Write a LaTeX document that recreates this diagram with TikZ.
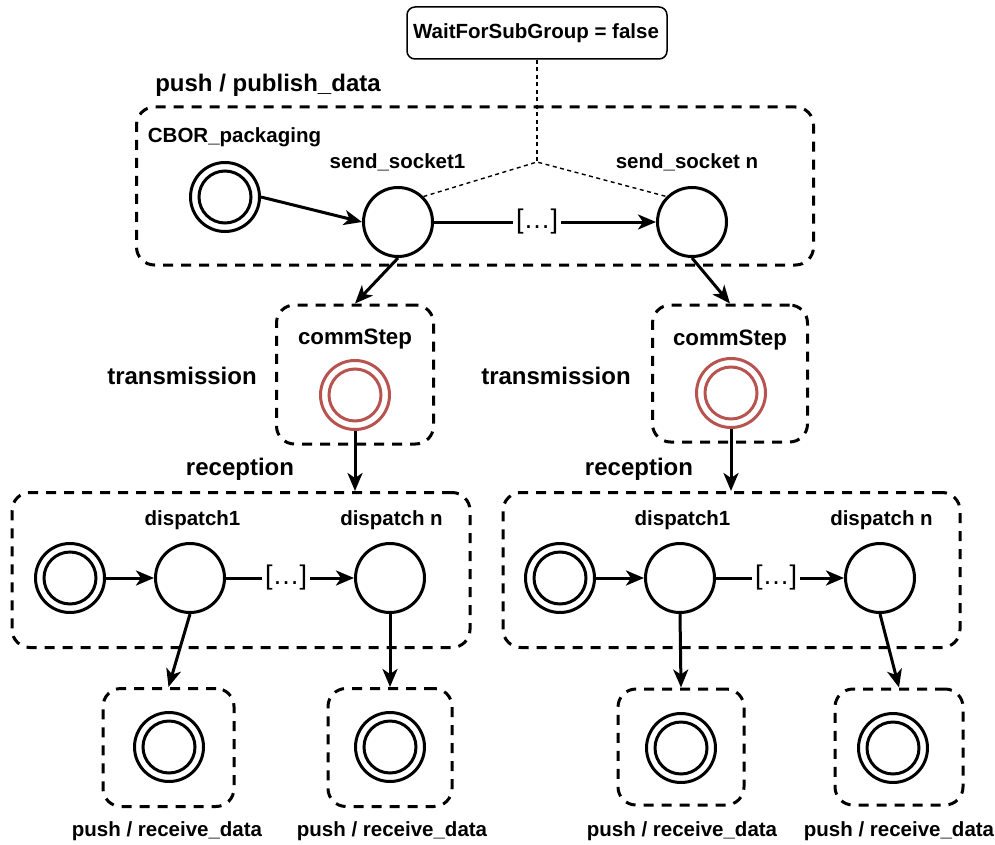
\documentclass[tikz,border=0pt]{standalone}
\usepackage{fontspec}
\setmainfont{Liberation Sans}
\usetikzlibrary{arrows.meta}
\definecolor{redline}{HTML}{B85450}
\begin{document}
\begin{tikzpicture}[x=1pt,y=-1pt,
  lbl/.style={font=\bfseries\fontsize{20.5}{24}\selectfont, anchor=base, inner sep=0},
  cml/.style={font=\bfseries\fontsize{22.3}{26}\selectfont, anchor=base, inner sep=0},
  big/.style={font=\bfseries\fontsize{24}{28}\selectfont, anchor=base, inner sep=0},
  grp/.style={draw, line width=3pt, dash pattern=on 10pt off 8pt, rounded corners=18pt, inner sep=0, rectangle},
  state/.style={circle, draw, line width=3pt, minimum size=69pt, inner sep=0},
  dstate/.style={state, path picture={\draw[line width=3pt] (path picture bounding box.center) circle[radius=26pt];}},
  rstate/.style={state, draw=redline, path picture={\draw[redline, line width=3pt] (path picture bounding box.center) circle[radius=26pt];}},
  arr/.style={line width=3pt, -{Stealth[length=18pt,width=15pt,inset=5pt]}},
  dotl/.style={line width=1.4pt, dash pattern=on 4pt off 3.5pt},
  dots/.style={fill=white, inner sep=3pt, font=\fontsize{27}{30}\selectfont}
]
\useasboundingbox (0,0) rectangle (995,845);

% top condition box
\node[draw, line width=1.5pt, rounded corners=8pt, minimum width=260pt, minimum height=52pt, inner sep=0] (wait) at (537,33) {};
\node[lbl] (waittxt) at (536,39) {WaitForSubGroup = false};

% publish group
\node[grp, minimum width=677pt, minimum height=158pt] (pub) at (475,186) {};
\node[big] (pubtxt) at (268,92) {push / publish\_data};
\node[lbl] (cbortxt) at (234.5,143) {CBOR\_packaging};
\node[lbl] (s1txt) at (397.5,168) {send\_socket1};
\node[lbl] (sntxt) at (687,168) {send\_socket n};
\node[dstate] (cbor) at (225,197) {};
\node[state] (s1) at (398,222) {};
\node[state] (sn) at (692,222) {};
\coordinate (j) at (537,162);

% commStep groups
\node[grp, minimum width=157pt, minimum height=139pt] (cb1) at (355,374.5) {};
\node[grp, minimum width=155pt, minimum height=137pt] (cb2) at (730,373.5) {};
\node[cml] (ct1) at (355,344) {commStep};
\node[cml] (ct2) at (730,345) {commStep};
\node[rstate] (c1) at (355,395) {};
\node[rstate] (c2) at (731,393) {};
\node[big] (tr1) at (182,384) {transmission};
\node[big] (tr2) at (556,384) {transmission};
\node[big] (re1) at (240,475) {reception};
\node[big] (re2) at (639,475) {reception};

% reception groups
\node[grp, minimum width=458pt, minimum height=155pt] (rb1) at (241,570) {};
\node[grp, minimum width=457pt, minimum height=155pt] (rb2) at (731.5,570) {};
\node[lbl] (d1t) at (192.5,525) {dispatch1};
\node[lbl] (dnt) at (391.5,525) {dispatch n};
\node[lbl] (e1t) at (682.5,525) {dispatch1};
\node[lbl] (ent) at (881.5,525) {dispatch n};
\node[dstate] (in1) at (70,578) {};
\node[state] (d1) at (190,578) {};
\node[state] (dn) at (390,578) {};
\node[dstate] (in2) at (560,578) {};
\node[state] (e1) at (680,578) {};
\node[state] (en) at (880,578) {};

% receive groups
\node[grp, minimum width=131pt, minimum height=118pt] (b1) at (168.5,747.5) {};
\node[grp, minimum width=124pt, minimum height=118pt] (b2) at (390,747.5) {};
\node[grp, minimum width=126pt, minimum height=116pt] (b3) at (681,747) {};
\node[grp, minimum width=128pt, minimum height=116pt] (b4) at (899,747) {};
\node[dstate] (f1) at (169,747) {};
\node[dstate] (f2) at (390,747) {};
\node[dstate] (f3) at (681,748) {};
\node[dstate] (f4) at (893,748) {};
\node[lbl] (l1) at (167,836) {push / receive\_data};
\node[lbl] (l2) at (392,836) {push / receive\_data};
\node[lbl] (l3) at (682,836) {push / receive\_data};
\node[lbl] (l4) at (899,836) {push / receive\_data};

% dotted condition links
\draw[dotl] (wait.south) -- (j);
\draw[dotl] (s1.45) -- (j) -- (sn.135);

% arrows
\draw[arr] (cbor.east) -- (s1.west);
\draw[arr] (s1) -- node[dots, pos=0.464] (dots1) {[…]} (sn);
\draw[arr] (s1.south) -- (cb1.north);
\draw[arr] (sn.south) -- (cb2.north);
\draw[arr] (c1.south) -- (c1.south |- rb1.north);
\draw[arr] (c2.south) -- (c2.south |- rb2.north);
\draw[arr] (in1) -- (d1);
\draw[arr] (d1) -- node[dots, pos=0.47] (dots2) {[…]} (dn);
\draw[arr] (in2) -- (e1);
\draw[arr] (e1) -- node[dots, pos=0.47] (dots3) {[…]} (en);
\draw[arr] (d1.south) -- (b1.north);
\draw[arr] (dn.south) -- (b2.north);
\draw[arr] (e1.south) -- (b3.north);
\draw[arr] (en.south) -- (b4.north);
\end{tikzpicture}
\end{document}
